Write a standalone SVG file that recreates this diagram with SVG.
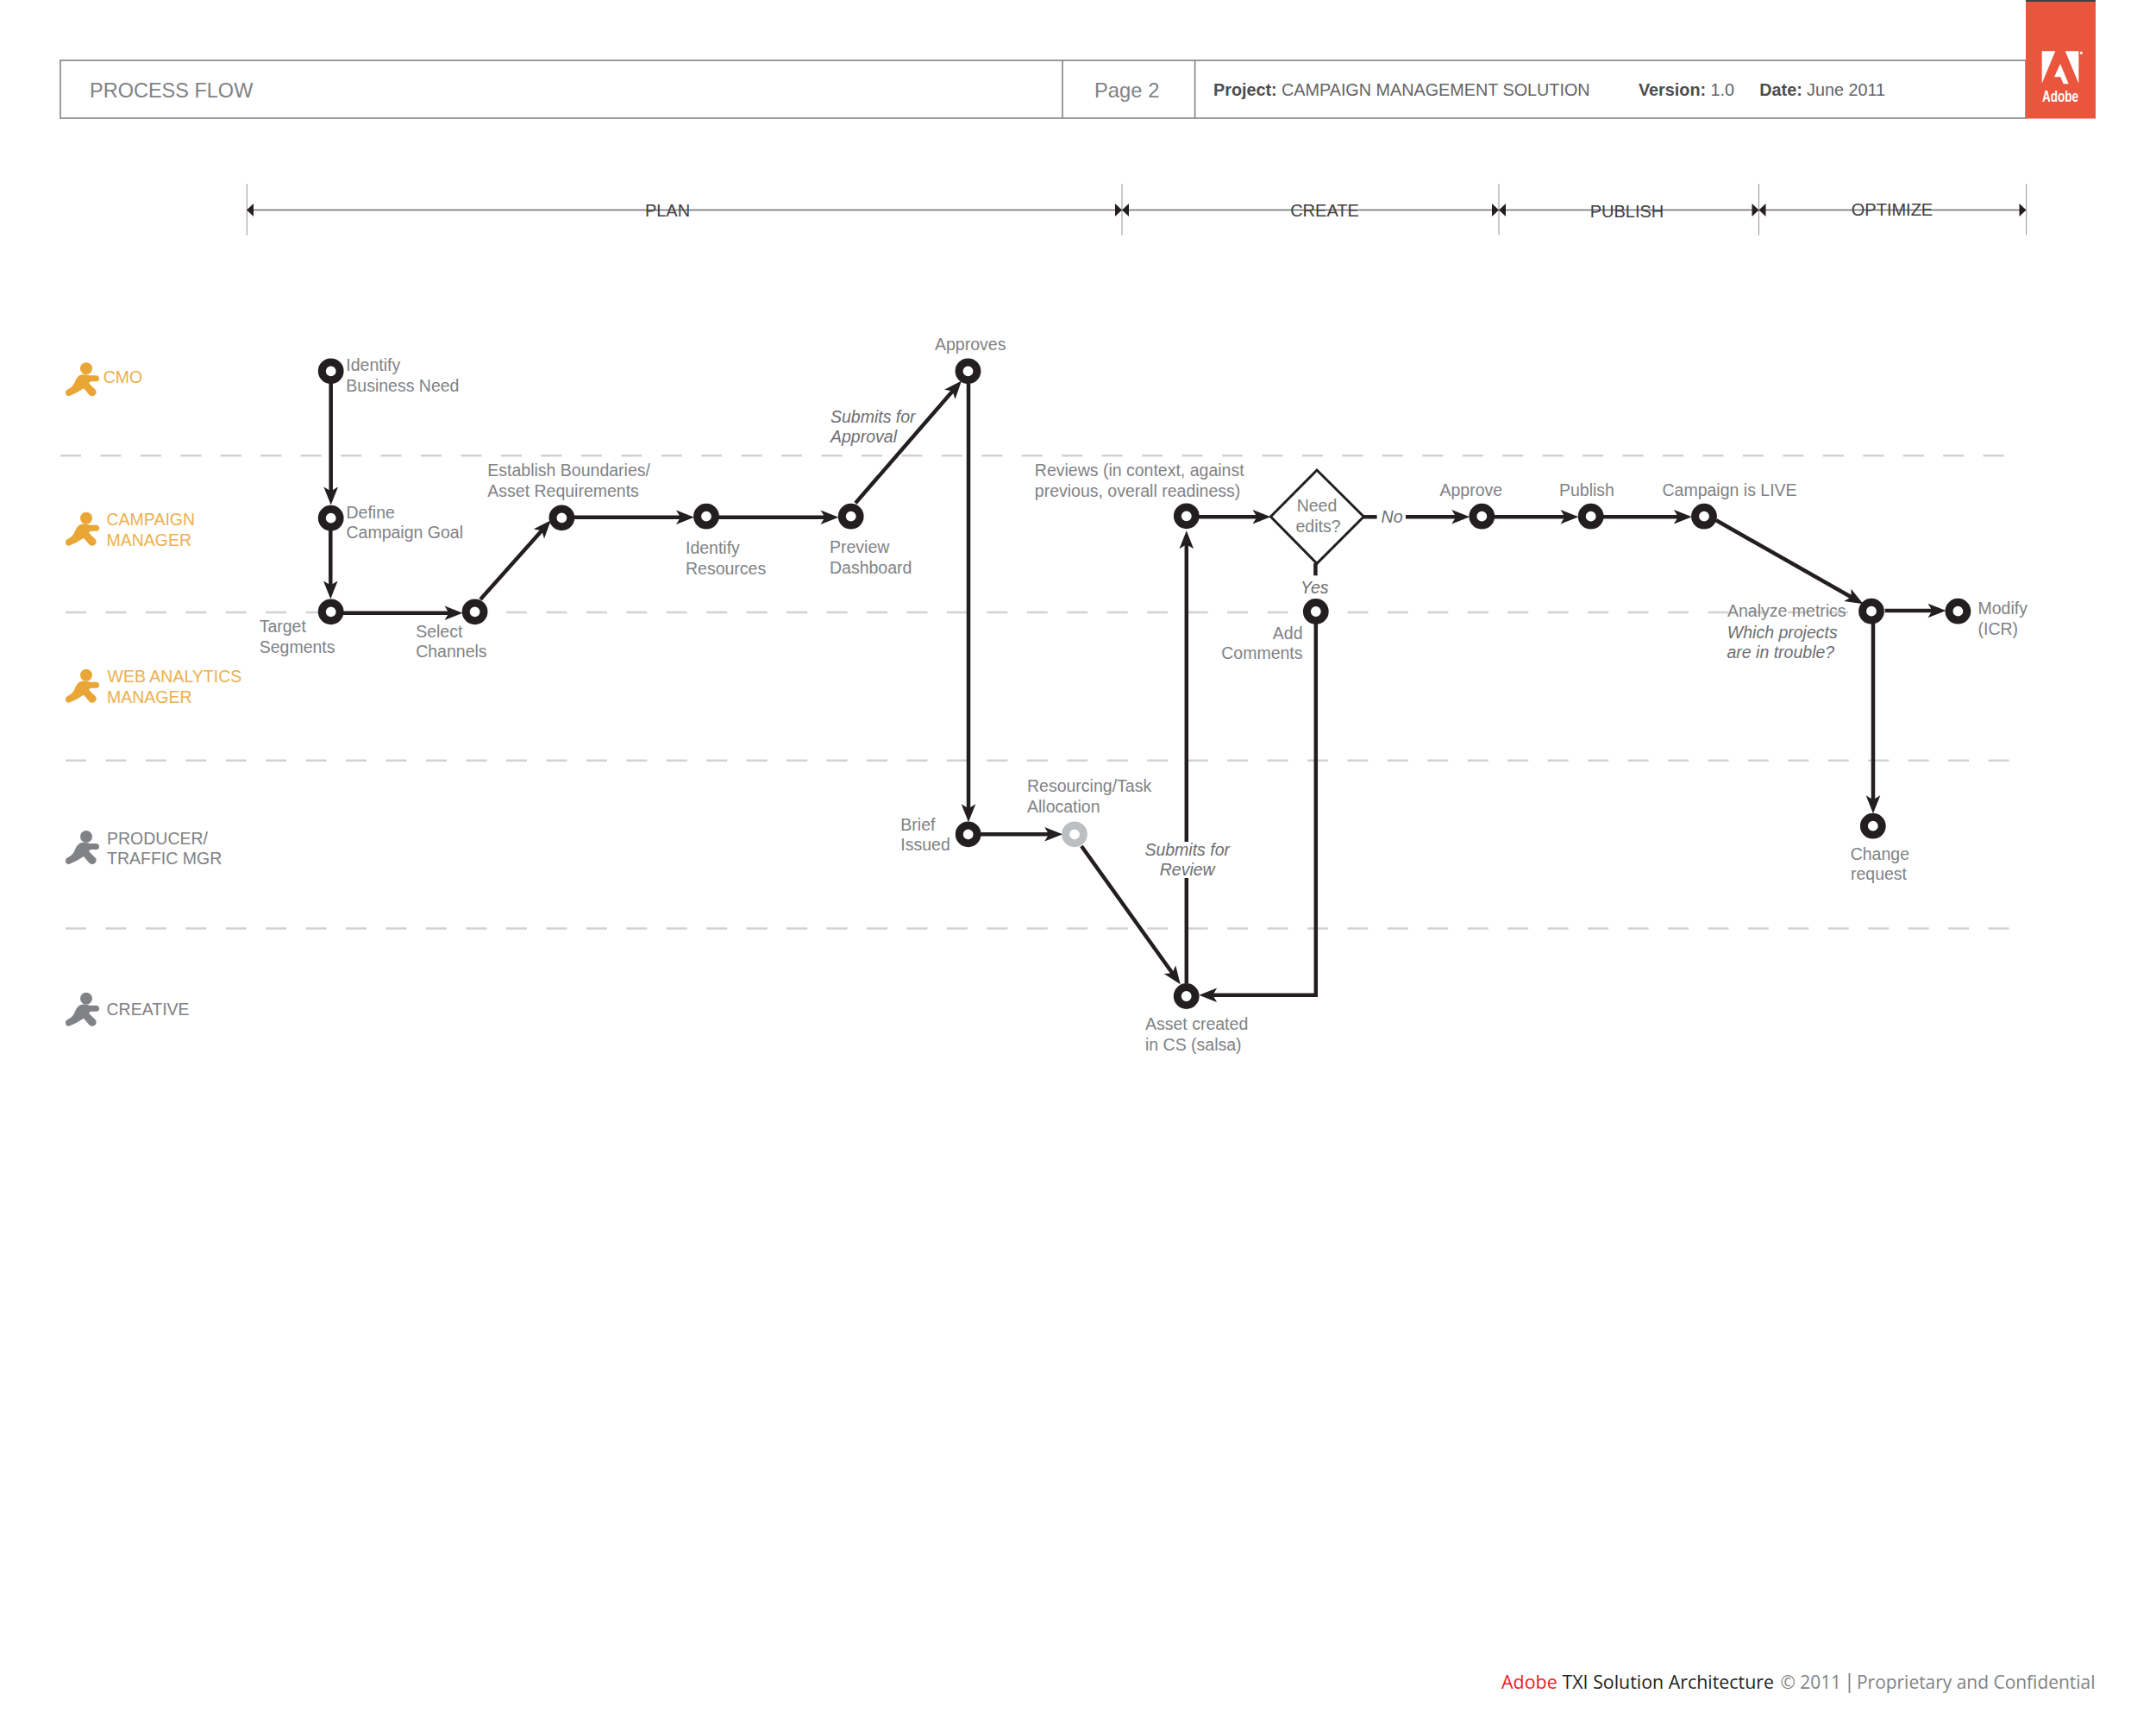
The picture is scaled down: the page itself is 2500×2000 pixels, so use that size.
<svg xmlns="http://www.w3.org/2000/svg" xmlns:xlink="http://www.w3.org/1999/xlink" width="2500" height="2000" viewBox="0 0 2500 2000">
<style>
text{font-family:"Liberation Sans",Arial,sans-serif}
.l{font-size:19.5px;fill:#808285}
.i{font-size:19.5px;fill:#6d6e71;font-style:italic}
.o{font-size:19.5px;fill:#ecb04e}
.g{font-size:19.5px;fill:#808285}
.ph{font-size:20px;fill:#414042;text-anchor:middle}
.h{font-size:19.8px;fill:#636466}
.hb{font-size:19.8px;fill:#4d4d4f;font-weight:bold}
.f{font-family:"Open Sans","Noto Sans",sans-serif;font-size:22px}
.n{fill:#fff;stroke:#231f20;stroke-width:9}
.n2{fill:#fff;stroke:#bcbec0;stroke-width:9}
.c{fill:none;stroke:#231f20;stroke-width:4.5}
.a{marker-end:url(#ah)}
.d{fill:none;stroke:#d1d2d4;stroke-width:2.5;stroke-dasharray:24 22.45}
.t{stroke:#939598;stroke-width:1}
.pb{stroke:#6d6e71;stroke-width:1.5}
.hd{fill:#fff;stroke:#808285;stroke-width:1.6}
</style>
<defs>
<marker id="ah" markerUnits="userSpaceOnUse" markerWidth="30" markerHeight="22" viewBox="-2 -11 26 22" refX="10" refY="0" orient="auto" overflow="visible"><path d="M0,-8.3 L21,0 L0,8.3 L5,0 Z" fill="#231f20"/></marker>
<g id="person"><circle cx="0" cy="0" r="7"/><path d="M-8,8 C-4,6 0,7 4,8 L12,8 Q15,8.5 15,11.5 Q15,15 12,15 L5,15 L3,17 L11,25 Q13,29 9,31.5 Q5,33 3,30 L-3,23 Q-10,28 -20,32 Q-24,32 -24,28 Q-24,25 -21,24 Q-15,21 -13,15 Q-11,10 -8,8 Z"/></g>
</defs>

<g id="header">
<rect class="hd" x="70" y="70" width="2279" height="67"/>
<line class="hd" x1="1232" y1="70" x2="1232" y2="137"/>
<line class="hd" x1="1385.6" y1="70" x2="1385.6" y2="137"/>
<text x="104" y="112.5" style="font-size:23.5px;fill:#808285">PROCESS FLOW</text>
<text x="1269" y="112.5" style="font-size:23.8px;fill:#808285">Page 2</text>
<text x="1407" y="110.7" class="hb">Project:</text>
<text x="1486" y="110.7" class="h">CAMPAIGN MANAGEMENT SOLUTION</text>
<text x="1900" y="110.7" class="hb">Version:</text>
<text x="1983.6" y="110.7" class="h">1.0</text>
<text x="2040.3" y="110.7" class="hb">Date:</text>
<text x="2095" y="110.7" class="h">June 2011</text>
</g>
<g id="adobe-logo">
<rect x="2349" y="0" width="81" height="137.5" fill="#ea553c"/>
<rect x="2349" y="0" width="81" height="2" fill="#404144"/>
<polygon points="2367.7,59.3 2383.3,59.3 2367.7,96.7" fill="#fff"/>
<polygon points="2394.7,59.3 2410.3,59.3 2410.3,96.7" fill="#fff"/>
<polygon points="2389,74 2398.7,97.3 2392.7,97.3 2389.3,89.3 2382,89.3" fill="#fff"/>
<circle cx="2413.3" cy="61.3" r="1.6" fill="#fff"/>
<text x="2368" y="118" textLength="42" lengthAdjust="spacingAndGlyphs" style="font-size:18px;font-weight:bold;fill:#fff">Adobe</text>
</g>

<g id="phases">
<line class="pb" x1="286" y1="243.5" x2="2349" y2="243.5"/>
<line class="t" x1="286.3" y1="213.3" x2="286.3" y2="272.7"/>
<line class="t" x1="1301" y1="213.3" x2="1301" y2="272.7"/>
<line class="t" x1="1738" y1="213.3" x2="1738" y2="272.7"/>
<line class="t" x1="2039.5" y1="213.3" x2="2039.5" y2="272.7"/>
<line class="t" x1="2349.7" y1="213.3" x2="2349.7" y2="272.7"/>
<g fill="#231f20">
<polygon points="286,243.5 294,236 294,251"/>
<polygon points="1301,243.5 1293,236 1293,251"/><polygon points="1301,243.5 1309,236 1309,251"/>
<polygon points="1738,243.5 1730,236 1730,251"/><polygon points="1738,243.5 1746,236 1746,251"/>
<polygon points="2039.5,243.5 2031.5,236 2031.5,251"/><polygon points="2039.5,243.5 2047.5,236 2047.5,251"/>
<polygon points="2349.5,243.5 2341.5,236 2341.5,251"/>
</g>
<text class="ph" x="774" y="250.7">PLAN</text>
<text class="ph" x="1536" y="250.7">CREATE</text>
<text class="ph" x="1886.5" y="252.3">PUBLISH</text>
<text class="ph" x="2194" y="250.3">OPTIMIZE</text>
</g>

<g id="lanes">
<line class="d" x1="70" y1="528.3" x2="2324" y2="528.3"/>
<line class="d" x1="76" y1="710" x2="2143" y2="710"/>
<line class="d" x1="76" y1="881.7" x2="2330" y2="881.7"/>
<line class="d" x1="76" y1="1076.5" x2="2330" y2="1076.5"/>
</g>

<g id="role-cmo"><use xlink:href="#person" href="#person" x="100" y="427.3" fill="#e9a636"/><text class="o" x="119.7" y="443.7">CMO</text></g>
<g id="role-campaign-manager"><use xlink:href="#person" href="#person" x="100" y="600.7" fill="#e9a636"/><text class="o"><tspan x="123.5" y="609">CAMPAIGN</tspan><tspan x="123.5" y="632.7">MANAGER</tspan></text></g>
<g id="role-web-analytics-manager"><use xlink:href="#person" href="#person" x="100" y="782.7" fill="#e9a636"/><text class="o"><tspan x="124.6" y="791">WEB ANALYTICS</tspan><tspan x="124" y="814.7">MANAGER</tspan></text></g>
<g id="role-producer"><use xlink:href="#person" href="#person" x="100" y="970" fill="#808285"/><text class="g"><tspan x="124" y="978.5">PRODUCER/</tspan><tspan x="124" y="1001.5">TRAFFIC MGR</tspan></text></g>
<g id="role-creative"><use xlink:href="#person" href="#person" x="100" y="1157.7" fill="#808285"/><text class="g" x="123.5" y="1177">CREATIVE</text></g>

<g id="connectors">
<line class="c a" x1="383.7" y1="445" x2="383.7" y2="574.5"/>
<line class="c a" x1="383.3" y1="615" x2="383.3" y2="683.5"/>
<line class="c a" x1="398" y1="710.8" x2="525.5" y2="710.8"/>
<line class="c a" x1="557" y1="695" x2="631.5" y2="611.5"/>
<line class="c a" x1="666" y1="599.7" x2="794" y2="599.7"/>
<line class="c a" x1="833" y1="599.7" x2="961.5" y2="599.7"/>
<line class="c a" x1="992" y1="583.3" x2="1107.8" y2="449.7"/>
<line class="c a" x1="1123" y1="445" x2="1123" y2="942.2"/>
<line class="c a" x1="1137" y1="967.3" x2="1221.2" y2="967.3"/>
<line class="c a" x1="1254" y1="981" x2="1362.3" y2="1132.2"/>
<line class="c" x1="1375.8" y1="1140" x2="1375.8" y2="1018"/>
<line class="c a" x1="1375.8" y1="976" x2="1375.8" y2="626.2"/>
<line class="c a" x1="1390" y1="599.3" x2="1462.5" y2="599.3"/>
<line class="c" x1="1581" y1="599.3" x2="1596.6" y2="599.3"/>
<line class="c a" x1="1630" y1="599.3" x2="1693.3" y2="599.3"/>
<line class="c a" x1="1733" y1="599.3" x2="1819.5" y2="599.3"/>
<line class="c a" x1="1859" y1="599.3" x2="1950.9" y2="599.3"/>
<line class="c a" x1="1990" y1="603.3" x2="2151" y2="694.8"/>
<line class="c a" x1="2185.7" y1="708" x2="2245.5" y2="708"/>
<line class="c a" x1="2172" y1="723" x2="2172" y2="932.2"/>
<line class="c" x1="1525.4" y1="653" x2="1525.4" y2="667.3"/>
<polyline class="c a" points="1525.8,723 1525.8,1153.8 1401.2,1153.8"/>
</g>

<g id="n-identify-need"><circle class="n" cx="383.7" cy="430.3" r="10.4"/><text class="l"><tspan x="401.3" y="430.3">Identify</tspan><tspan x="401.3" y="454">Business Need</tspan></text></g>
<g id="n-define-goal"><circle class="n" cx="383.7" cy="600.7" r="10.4"/><text class="l"><tspan x="401.5" y="600.7">Define</tspan><tspan x="401.5" y="624.3">Campaign Goal</tspan></text></g>
<g id="n-target-segments"><circle class="n" cx="383.7" cy="709.3" r="10.4"/><text class="l"><tspan x="300.7" y="733.3">Target</tspan><tspan x="300.7" y="756.7">Segments</tspan></text></g>
<g id="n-select-channels"><circle class="n" cx="550.6" cy="709.3" r="10.4"/><text class="l"><tspan x="482.2" y="739">Select</tspan><tspan x="482.2" y="762">Channels</tspan></text></g>
<g id="n-establish"><circle class="n" cx="651.4" cy="600.3" r="10.4"/><text class="l"><tspan x="565.3" y="552">Establish Boundaries/</tspan><tspan x="565.3" y="576">Asset Requirements</tspan></text></g>
<g id="n-identify-resources"><circle class="n" cx="819" cy="598.7" r="10.4"/><text class="l"><tspan x="795" y="641.7">Identify</tspan><tspan x="795" y="665.7">Resources</tspan></text></g>
<g id="n-preview"><circle class="n" cx="986.7" cy="598.7" r="10.4"/><text class="l"><tspan x="962" y="640.5">Preview</tspan><tspan x="962" y="664.5">Dashboard</tspan></text></g>
<g id="n-approves"><circle class="n" cx="1122.5" cy="430.3" r="10.4"/><text class="l" x="1084" y="405.7">Approves</text></g>
<text class="i"><tspan x="963" y="490">Submits for</tspan><tspan x="963" y="513.3">Approval</tspan></text>
<g id="n-brief"><circle class="n" cx="1122.7" cy="967.3" r="10.4"/><text class="l"><tspan x="1044.3" y="962.7">Brief</tspan><tspan x="1044.3" y="986">Issued</tspan></text></g>
<g id="n-resourcing"><circle class="n2" cx="1246" cy="967.3" r="10.4"/><text class="l"><tspan x="1191" y="918.3">Resourcing/Task</tspan><tspan x="1191" y="942.3">Allocation</tspan></text></g>
<g id="n-asset"><circle class="n" cx="1375.7" cy="1155" r="10.4"/><text class="l"><tspan x="1328" y="1194">Asset created</tspan><tspan x="1328" y="1218">in CS (salsa)</tspan></text></g>
<text class="i" text-anchor="middle"><tspan x="1376.7" y="992.3">Submits for</tspan><tspan x="1376.7" y="1015.3">Review</tspan></text>
<g id="n-reviews"><circle class="n" cx="1375.8" cy="598.3" r="10.4"/><text class="l"><tspan x="1199.8" y="552">Reviews (in context, against</tspan><tspan x="1199.8" y="576">previous, overall readiness)</tspan></text></g>
<g id="n-need-edits"><polygon points="1473.4,599 1527,545 1581.3,599 1527,653.3" fill="#fff" stroke="#231f20" stroke-width="3"/><text class="l" text-anchor="middle"><tspan x="1527" y="592.7">Need</tspan><tspan x="1528.5" y="616.8">edits?</tspan></text></g>
<text class="i" x="1601.6" y="605.7">No</text>
<text class="i" x="1524.3" y="688.3" text-anchor="middle">Yes</text>
<g id="n-add-comments"><circle class="n" cx="1525.8" cy="709" r="10.4"/><text class="l" text-anchor="end"><tspan x="1510.5" y="740.7">Add</tspan><tspan x="1510.5" y="763.5">Comments</tspan></text></g>
<g id="n-approve"><circle class="n" cx="1718.3" cy="598.7" r="10.4"/><text class="l" x="1669.5" y="574.7">Approve</text></g>
<g id="n-publish"><circle class="n" cx="1844.7" cy="598.7" r="10.4"/><text class="l" x="1808" y="574.7">Publish</text></g>
<g id="n-live"><circle class="n" cx="1976" cy="598.7" r="10.4"/><text class="l" x="1927.5" y="574.7">Campaign is LIVE</text></g>
<g id="n-analyze"><circle class="n" cx="2170" cy="708.7" r="10.4"/><text class="l" x="2003" y="715.3">Analyze metrics</text><text class="i"><tspan x="2002.8" y="740">Which projects</tspan><tspan x="2002.5" y="763.3">are in trouble?</tspan></text></g>
<g id="n-modify"><circle class="n" cx="2270.4" cy="708.7" r="10.4"/><text class="l"><tspan x="2293.5" y="712">Modify</tspan><tspan x="2293.5" y="736">(ICR)</tspan></text></g>
<g id="n-change"><circle class="n" cx="2171.8" cy="957.7" r="10.4"/><text class="l"><tspan x="2145.7" y="996.7">Change</tspan><tspan x="2146" y="1020">request</tspan></text></g>

<g id="footer">
<text class="f" x="1741" y="1958.3" fill="#ed1c24" textLength="64.7" lengthAdjust="spacingAndGlyphs">Adobe</text>
<text class="f" x="1811.5" y="1958.3" fill="#231f20" textLength="245.5" lengthAdjust="spacingAndGlyphs">TXI Solution Architecture</text>
<text class="f" x="2064.5" y="1958.3" fill="#808285" textLength="70.5" lengthAdjust="spacingAndGlyphs">© 2011</text>
<line x1="2144.5" y1="1940" x2="2144.5" y2="1963" stroke="#808285" stroke-width="1.8"/>
<text class="f" x="2153" y="1958.3" fill="#808285" textLength="276.5" lengthAdjust="spacingAndGlyphs">Proprietary and Confidential</text>
</g>
</svg>
